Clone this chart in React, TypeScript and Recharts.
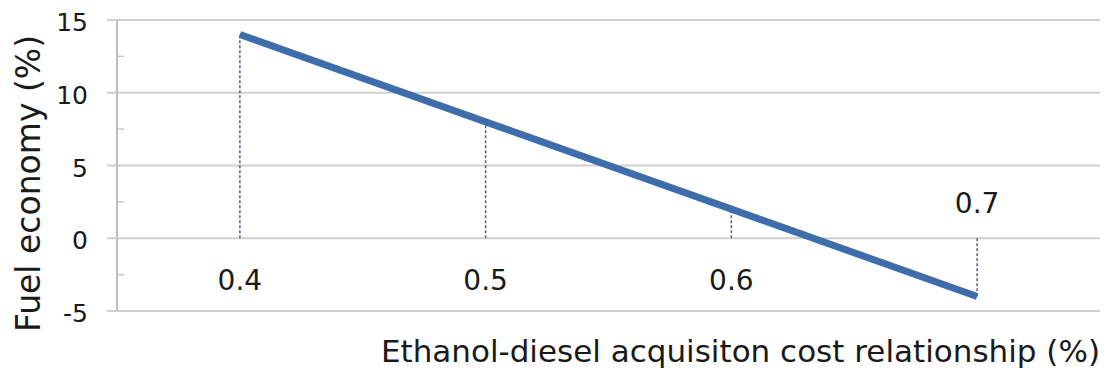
import { LineChart, Line, XAxis, YAxis, ReferenceLine } from 'recharts'

const costRatio = [0.4, 0.5, 0.6, 0.7]
const fuelEconomy = [14, 8, 2, -4]
const yTicks = [-5, 0, 5, 10, 15]
const yMinorTicks = [-2.5, 2.5, 7.5, 12.5]
const labelAbove = [false, false, false, true]

const xTitle = 'Ethanol-diesel acquisiton cost relationship (%)'
const yTitle = 'Fuel economy (%)'

const data = costRatio.map((c, i) => ({ x: c, y: fuelEconomy[i] }))

const FONT = 'DejaVu Sans'

const YTick = (props: any) => {
  const { x, y, payload } = props
  const axisX = x + 29
  if (yMinorTicks.includes(payload.value)) {
    return <line x1={axisX} x2={axisX + 7} y1={y} y2={y} stroke="#c8c8c8" strokeWidth={1.5} />
  }
  return (
    <g>
      <line x1={axisX - 10} x2={axisX} y1={y} y2={y} stroke="#cfcfcf" strokeWidth={2} />
      <text x={x} y={y} dy={11} textAnchor="end" fontSize={25} fontFamily={FONT} fill="#1a1a1a">
        {payload.value}
      </text>
    </g>
  )
}

const App = () => {
  return (
    <div style={{ position: 'absolute', left: 0, top: 0, background: '#fff' }}>
      <LineChart width={1105} height={374} data={data} margin={{ top: 20, right: 5, bottom: 0, left: 0 }}>
        <XAxis
          type="number"
          dataKey="x"
          domain={[0.35, 0.75]}
          height={63}
          axisLine={false}
          tickLine={false}
          tick={false}
          label={{
            content: (p: any) => {
              const vb = p.viewBox
              return (
                <text x={vb.x + vb.width} y={vb.y + 51} textAnchor="end" fontSize={31} fontFamily={FONT} fill="#1a1a1a">
                  {xTitle}
                </text>
              )
            },
          }}
        />
        <YAxis
          type="number"
          domain={[-5, 15]}
          ticks={[...yTicks, ...yMinorTicks].sort((a, b) => a - b)}
          width={117}
          axisLine={{ stroke: '#bdbdbd', strokeWidth: 2 }}
          tickLine={false}
          tickSize={10}
          tickMargin={19}
          tick={<YTick />}
          label={{
            content: (p: any) => {
              const vb = p.viewBox
              const cy = vb.y + vb.height / 2 + 18
              return (
                <text
                  x={28}
                  y={cy}
                  transform={`rotate(-90, 28, ${cy})`}
                  textAnchor="middle"
                  dominantBaseline="central"
                  fontSize={33}
                  fontFamily={FONT}
                  fill="#1a1a1a"
                >
                  {yTitle}
                </text>
              )
            },
          }}
        />
        {yTicks.map((v) => (
          <ReferenceLine key={'g' + v} y={v} stroke="#cfcfcf" strokeWidth={2} />
        ))}
        {costRatio.map((c, i) => (
          <ReferenceLine
            key={'d' + c}
            segment={[
              { x: c, y: 0 },
              { x: c, y: fuelEconomy[i] },
            ]}
            stroke="#55607a"
            strokeWidth={1.5}
            strokeDasharray="3 2"
            label={{
              content: (p: any) => {
                const vb = p.viewBox
                const ly = labelAbove[i] ? vb.y - 25 : vb.y + vb.height + 52
                return (
                  <text x={vb.x} y={ly} textAnchor="middle" fontSize={28} fontFamily={FONT} fill="#1a1a1a">
                    {c.toFixed(1)}
                  </text>
                )
              },
            }}
          />
        ))}
        <Line
          type="linear"
          dataKey="y"
          stroke="#3f6cab"
          strokeWidth={7}
          dot={false}
          isAnimationActive={false}
        />
      </LineChart>
    </div>
  )
}

export default App
